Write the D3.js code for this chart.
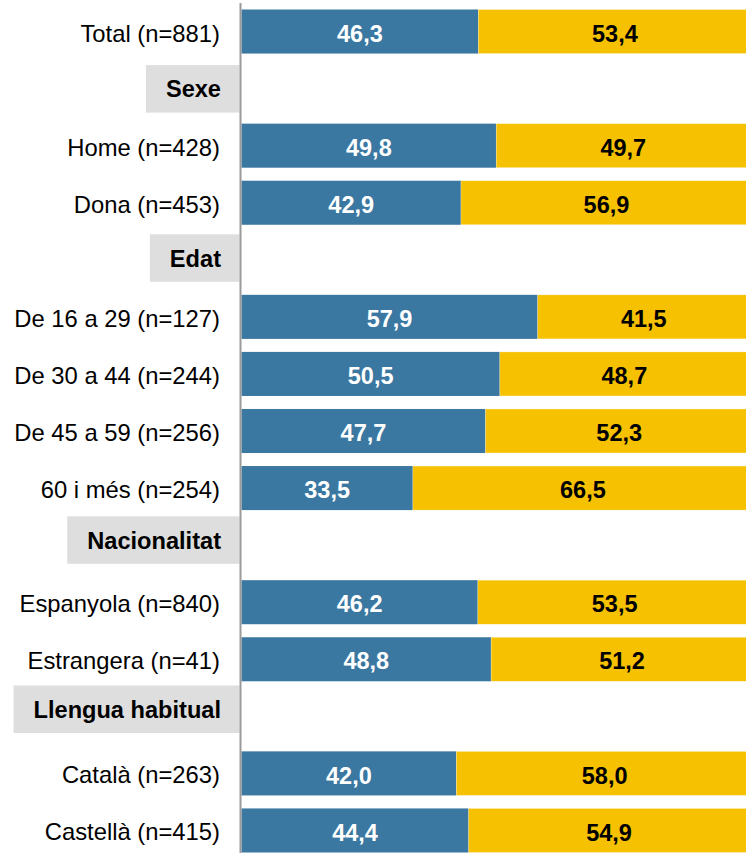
<!DOCTYPE html>
<html>
<head>
<meta charset="utf-8">
<script src="https://cdn.jsdelivr.net/npm/d3@7"></script>
<style>
  body { margin: 0; background: #fff; }
  svg { display: block; font-family: "Liberation Sans", Arial, sans-serif; }
</style>
</head>
<body>
<svg></svg>
<script>
// rows, top to bottom; headers have no values
var rows = ["Total (n=881)", "Sexe", "Home (n=428)", "Dona (n=453)", "Edat",
  "De 16 a 29 (n=127)", "De 30 a 44 (n=244)", "De 45 a 59 (n=256)", "60 i més (n=254)",
  "Nacionalitat", "Espanyola (n=840)", "Estrangera (n=41)", "Llengua habitual",
  "Català (n=263)", "Castellà (n=415)"];
var headers = ["Sexe", "Edat", "Nacionalitat", "Llengua habitual"];
var blueVals = [46.3, null, 49.8, 42.9, null, 57.9, 50.5, 47.7, 33.5, null, 46.2, 48.8, null, 42.0, 44.4];
var yellowVals = [53.4, null, 49.7, 56.9, null, 41.5, 48.7, 52.3, 66.5, null, 53.5, 51.2, null, 58.0, 54.9];

var width = 746, height = 853;
var blue = "#3a77a1", yellow = "#f6c100";
var fmt = function(v) { return d3.format(".1f")(v).replace(".", ","); };

var svg = d3.select("svg").attr("width", width).attr("height", height);

var x = d3.scaleLinear().domain([0, 100]).range([241.5, 753]);
var y = d3.scaleBand().domain(rows).range([3, 859]).paddingInner(0.228).paddingOuter(0.114);
var yh = y.copy().range([4, 850]); // header boxes sit a bit higher

var data = rows.map(function(r, i) {
  return { label: r, header: headers.indexOf(r) >= 0, b: blueVals[i], yv: yellowVals[i] };
});
var bars = data.filter(function(d) { return !d.header; });

// blue segments
svg.append("g").selectAll("rect").data(bars).enter().append("rect")
  .attr("x", x(0))
  .attr("y", function(d) { return y(d.label); })
  .attr("width", function(d) { return x(d.b) - x(0); })
  .attr("height", y.bandwidth())
  .attr("fill", blue);

// yellow segments
svg.append("g").selectAll("rect").data(bars).enter().append("rect")
  .attr("x", function(d) { return x(d.b); })
  .attr("y", function(d) { return y(d.label); })
  .attr("width", function(d) { return x(d.b + d.yv) - x(d.b); })
  .attr("height", y.bandwidth())
  .attr("fill", yellow)
  .attr("stroke", "rgba(255,255,255,0.5)")
  .attr("stroke-width", 0.6);

// value labels
svg.append("g").selectAll("text").data(bars).enter().append("text")
  .attr("x", function(d) { return (x(0) + x(d.b)) / 2; })
  .attr("y", function(d) { return y(d.label) + y.bandwidth() / 2; })
  .attr("dy", "0.43em")
  .attr("text-anchor", "middle")
  .style("font-size", "23.5px").style("font-weight", "bold")
  .attr("fill", "#fff")
  .text(function(d) { return fmt(d.b); });

svg.append("g").selectAll("text").data(bars).enter().append("text")
  .attr("x", function(d) { return (x(d.b) + x(d.b + d.yv)) / 2; })
  .attr("y", function(d) { return y(d.label) + y.bandwidth() / 2; })
  .attr("dy", "0.43em")
  .attr("text-anchor", "middle")
  .style("font-size", "23.5px").style("font-weight", "bold")
  .attr("fill", "#000")
  .text(function(d) { return fmt(d.yv); });

// row labels
svg.append("g").selectAll("text").data(bars).enter().append("text")
  .attr("x", 220)
  .attr("y", function(d) { return y(d.label) + y.bandwidth() / 2; })
  .attr("dy", "0.42em")
  .attr("text-anchor", "end")
  .style("font-size", "23.8px")
  .attr("fill", "#000")
  .text(function(d) { return d.label; });

// group headers with grey boxes
var hg = svg.append("g").selectAll("g").data(data.filter(function(d) { return d.header; }))
  .enter().append("g");
hg.append("rect").attr("class", "hbox").attr("fill", "#dedede");
hg.append("text")
  .attr("x", 221)
  .attr("y", function(d) { return yh(d.label) + yh.bandwidth() / 2; })
  .attr("dy", "0.37em")
  .attr("text-anchor", "end")
  .style("font-size", "23.6px").style("font-weight", "bold")
  .attr("fill", "#000")
  .text(function(d) { return d.label; });
hg.each(function(d) {
  var g = d3.select(this);
  var w = g.select("text").node().getComputedTextLength();
  var c = yh(d.label) + yh.bandwidth() / 2;
  var x0 = 221 - w - 20;
  g.select("rect")
    .attr("x", x0)
    .attr("width", 239.5 - x0)
    .attr("y", c - 23.5)
    .attr("height", 47.5);
});

// vertical axis line
svg.append("line")
  .attr("x1", 240.5).attr("x2", 240.5)
  .attr("y1", 3).attr("y2", height)
  .attr("stroke", "#9a9a9a").attr("stroke-width", 2);
</script>
</body>
</html>
